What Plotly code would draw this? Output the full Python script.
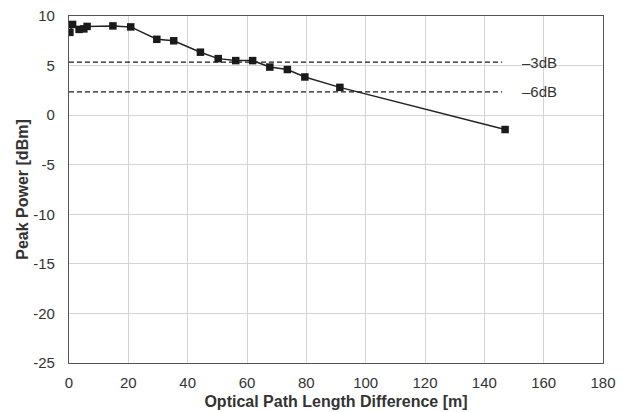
import plotly.graph_objects as go

opd_m = [0.3, 1.2, 3.4, 5.0, 6.1, 14.8, 20.8, 29.6, 35.3, 44.3, 50.3, 56.2, 61.9, 67.7, 73.6, 79.5, 91.3, 147.0]
peak_dbm = [8.35, 9.15, 8.65, 8.7, 8.95, 9.0, 8.9, 7.65, 7.5, 6.35, 5.7, 5.5, 5.5, 4.85, 4.6, 3.85, 2.8, -1.45]

ref_levels = [5.35, 2.35]
ref_labels = ["\u20133dB", "\u20136dB"]
ref_x_range = [0, 146]
label_x = 152

x_ticks = [0, 20, 40, 60, 80, 100, 120, 140, 160, 180]
y_ticks = [10, 5, 0, -5, -10, -15, -20, -25]

FONT = "Liberation Sans, Arial"
fig = go.Figure()
for lvl in ref_levels:
    fig.add_trace(go.Scatter(x=ref_x_range, y=[lvl, lvl], mode="lines",
                             line=dict(color="#1a1a1a", width=1.3, dash="5px,3px"),
                             showlegend=False, hoverinfo="skip"))
fig.add_trace(go.Scatter(x=opd_m, y=peak_dbm, mode="lines+markers",
                         line=dict(color="#222222", width=1.5),
                         marker=dict(symbol="square", size=7.5, color="#1a1a1a"),
                         showlegend=False))
for lvl, lab in zip(ref_levels, ref_labels):
    fig.add_annotation(x=label_x, y=lvl, text=lab, showarrow=False, xanchor="left",
                       yanchor="middle", font=dict(size=15, color="#333333", family=FONT))

axis_common = dict(showgrid=True, gridcolor="#d4d4d4", gridwidth=1, zeroline=False,
                   showline=True, linecolor="#555555", linewidth=1.2, mirror=True,
                   ticks="", ticklabeloverflow="allow", automargin=False,
                   tickfont=dict(size=15, color="#333333", family=FONT))
fig.update_xaxes(range=[0, 180], tickvals=x_ticks, ticktext=[str(v) for v in x_ticks],
                 ticklabelstandoff=6, **axis_common,
                 title=dict(text="<b>Optical Path Length Difference [m]</b>",
                            font=dict(size=16, color="#333333", family=FONT),
                            standoff=5))
fig.update_yaxes(range=[-25, 10], tickvals=y_ticks, ticktext=[str(v) for v in y_ticks],
                 ticklabelstandoff=10, **axis_common,
                 title=dict(text="<b>Peak Power [dBm]</b>",
                            font=dict(size=16, color="#333333", family=FONT),
                            standoff=0))
fig.update_layout(width=629, height=412, margin=dict(l=61, r=34, t=8, b=57),
                  paper_bgcolor="white", plot_bgcolor="white")
fig.write_html("out.html")
